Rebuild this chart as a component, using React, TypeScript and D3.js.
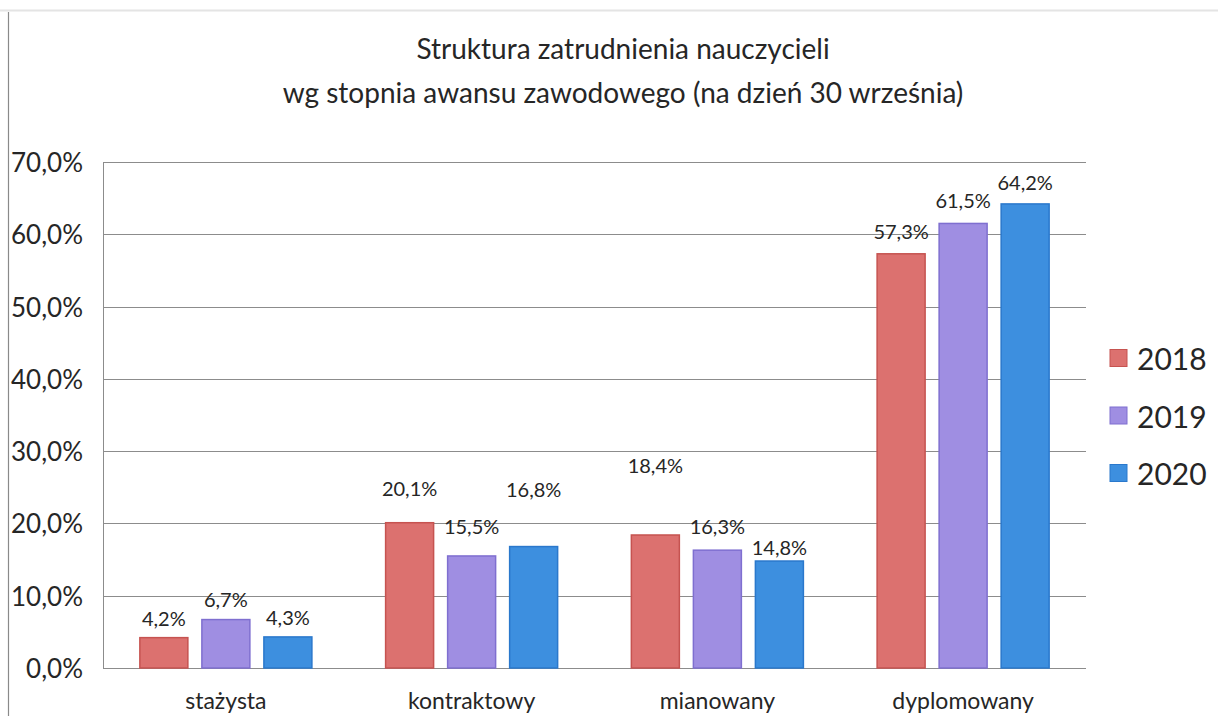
import React from "react";
import * as d3 from "d3";

const categories = ["stażysta", "kontraktowy", "mianowany", "dyplomowany"];
const seriesNames = ["2018", "2019", "2020"];
const values2018 = [4.2, 20.1, 18.4, 57.3];
const values2019 = [6.7, 15.5, 16.3, 61.5];
const values2020 = [4.3, 16.8, 14.8, 64.2];
const yTicks = [0, 10, 20, 30, 40, 50, 60, 70];
const titleLines = [
  "Struktura zatrudnienia nauczycieli",
  "wg stopnia awansu zawodowego (na dzień 30 września)",
];

// layout: how far above the bar top each data label sits (px), per series, per category
const labelLift = [
  [20, 35, 70, 23],
  [21, 30, 24, 23],
  [20, 58, 14, 22],
];

const fills = ["#dc716f", "#9f8ee2", "#3d8fdf"];
const strokes = ["#c65350", "#7f6fd0", "#2a78cc"];

const W = 1218;
const H = 716;
const FONT = "Lato, 'Open Sans', sans-serif";
const TEXT = "#262626";

export default function App() {
  const series = [values2018, values2019, values2020];
  const left = 103;
  const right = 1086;
  const top = 162;
  const bottom = 668;

  const y = d3.scaleLinear().domain([0, 70]).range([bottom, top]);
  const x0 = d3
    .scaleBand<string>()
    .domain(categories)
    .range([left, right])
    .paddingInner(0.3)
    .paddingOuter(0.15);
  const x1 = d3
    .scaleBand<string>()
    .domain(seriesNames)
    .range([0, x0.bandwidth()])
    .paddingInner(0.226)
    .paddingOuter(0);

  const fmt = (v: number) => v.toFixed(1).replace(".", ",") + "%";

  return (
    <svg
      width={W}
      height={H}
      style={{ position: "absolute", left: 0, top: 0, background: "#fff" }}
    >
      <rect x={0} y={0} width={W} height={H} fill="#fff" />
      {/* scan frame lines */}
      <line x1={0} x2={W} y1={10.5} y2={10.5} stroke="#e4e4e4" strokeWidth={2} />
      <line x1={8.5} x2={8.5} y1={12} y2={H} stroke="#8a8a8a" strokeWidth={1.2} />

      {titleLines.map((t, i) => (
        <text
          key={i}
          x={623}
          y={48 + i * 44}
          textAnchor="middle"
          dominantBaseline="central"
          fontFamily={FONT}
          fontSize={28}
          fill={TEXT}
        >
          {t}
        </text>
      ))}

      {/* gridlines */}
      {yTicks.map((t) => (
        <line
          key={t}
          x1={left}
          x2={right}
          y1={Math.round(y(t)) + 0.5}
          y2={Math.round(y(t)) + 0.5}
          stroke="#8c8c8c"
          strokeWidth={1}
        />
      ))}
      <line x1={left + 0.5} x2={left + 0.5} y1={top} y2={bottom} stroke="#8c8c8c" strokeWidth={1} />

      {/* y tick labels */}
      {yTicks.map((t) => (
        <text
          key={t}
          x={83}
          y={y(t)}
          textAnchor="end"
          dominantBaseline="central"
          fontFamily={FONT}
          fontSize={26}
          fill={TEXT}
        >
          {fmt(t)}
        </text>
      ))}

      {/* bars */}
      {categories.map((c, ci) => (
        <g key={c} transform={`translate(${x0(c)},0)`}>
          {seriesNames.map((s, si) => {
            const v = series[si][ci];
            const bx = x1(s) as number;
            return (
              <g key={s}>
                <rect
                  x={bx}
                  y={y(v)}
                  width={x1.bandwidth()}
                  height={bottom - y(v)}
                  fill={fills[si]}
                  stroke={strokes[si]}
                  strokeWidth={1.5}
                />
                <text
                  x={bx + x1.bandwidth() / 2}
                  y={y(v) - labelLift[si][ci]}
                  textAnchor="middle"
                  dominantBaseline="central"
                  fontFamily={FONT}
                  fontSize={20}
                  fill={TEXT}
                >
                  {fmt(v)}
                </text>
              </g>
            );
          })}
        </g>
      ))}

      {/* category labels */}
      {categories.map((c) => (
        <text
          key={c}
          x={(x0(c) as number) + x0.bandwidth() / 2}
          y={700}
          textAnchor="middle"
          dominantBaseline="central"
          fontFamily={FONT}
          fontSize={23}
          fill={TEXT}
        >
          {c}
        </text>
      ))}

      {/* legend */}
      {seriesNames.map((s, i) => (
        <g key={s} transform={`translate(1110,${358 + i * 57.5})`}>
          <rect x={0} y={-8.5} width={17} height={17} fill={fills[i]} stroke={strokes[i]} strokeWidth={1} />
          <text
            x={27}
            y={0}
            dominantBaseline="central"
            fontFamily={FONT}
            fontSize={30}
            fill={TEXT}
          >
            {s}
          </text>
        </g>
      ))}
    </svg>
  );
}
